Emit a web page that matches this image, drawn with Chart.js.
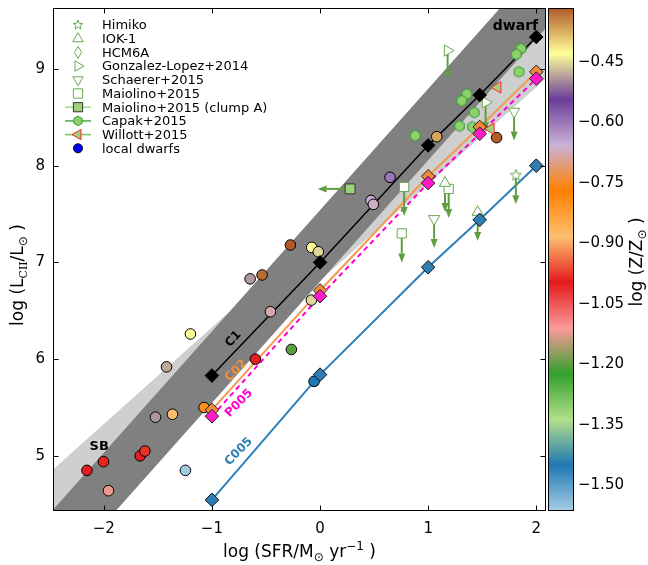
<!DOCTYPE html>
<html>
<head>
<meta charset="utf-8">
<script src="https://cdn.jsdelivr.net/npm/chart.js@4.4.0/dist/chart.umd.min.js"></script>
<style>
  html, body { margin: 0; padding: 0; background: #fff; }
  #contenedor { width: 648px; height: 565px; }
</style>
</head>
<body>
<div id="contenedor"><canvas id="grafico"></canvas></div>
<script>
// Marcas de los ejes
const xTicks = [-2, -1, 0, 1, 2];
const yTicks = [5, 6, 7, 8, 9];
const zTicks = [-1.50, -1.35, -1.20, -1.05, -0.90, -0.75, -0.60, -0.45];
const zMin = -1.563;
const zMax = -0.317;

// Enanas locales (color segun metalicidad)
const enanasSFR = [-2.156, -2.003, -1.957, -1.664, -1.620, -1.245, -1.522, -1.365, -1.072, -1.420, -1.199, -0.598, -0.459, -0.265, -0.647, -0.536, -0.274, -0.077, -0.016, -0.080, 0.471, 0.493, 0.647, 1.079, 1.633, -0.055];
const enanasLCII = [4.85, 4.94, 4.64, 5.00, 5.05, 4.85, 5.40, 5.43, 5.50, 5.92, 6.26, 6.00, 6.49, 6.10, 6.83, 6.87, 7.18, 7.155, 7.11, 6.61, 7.64, 7.60, 7.88, 8.30, 8.29, 5.77];
const enanasZ = [-1.00, -0.99, -1.12, -1.00, -0.98, -1.56, -0.49, -0.88, -0.80, -0.48, -0.43, -1.00, -0.68, -1.20, -0.49, -0.33, -0.31, -0.43, -0.455, -0.455, -0.65, -0.665, -0.60, -0.37, -0.32, -1.45];

// Modelos
const modeloSFR = [-1, 0, 1, 1.477, 2];
const modeloC1 = [5.83, 7.00, 8.21, 8.73, 9.33];
const modeloC02 = [5.475, 6.71, 7.89, 8.40, 8.97];
const modeloP005 = [5.41, 6.65, 7.82, 8.33, 8.90];
const modeloC005 = [4.545, 5.84, 6.95, 7.44, 8.00];

// Bandas (relaciones dwarf y SB)
const bandaSFR = [-2.6, 2.2];
const dwarfSup = [4.28, 10.30];
const dwarfInf = [3.54, 9.56];
const sbSup = [4.73, 9.53];
const sbInf = [4.21, 9.01];

// Galaxias a alto z
const capakSFR = [1.858, 1.815, 1.84, 1.358, 1.31, 1.426, 1.29, 1.41, 0.88];
const capakLCII = [9.21, 9.15, 8.97, 8.74, 8.67, 8.55, 8.41, 8.40, 8.31];
const willottSFR = [1.642, 1.58];
const willottLCII = [8.81, 8.38];
const gonzalezSFR = [1.18, 1.531];
const gonzalezLCII = [9.19, 8.655];
const schaererSFR = [1.795, 1.055];
const schaererLCII = [8.56, 7.45];
const maiolinoSFR = [0.778, 1.19, 0.756];
const maiolinoLCII = [7.78, 7.76, 7.30];
const iokSFR = [1.156, 1.458];
const iokLCII = [7.82, 7.52];
const himikoSFR = [1.811];
const himikoLCII = [7.90];
const clumpSFR = [0.278];
const clumpLCII = [7.76];

const leyendaTextos = ['Himiko', 'IOK-1', 'HCM6A', 'Gonzalez-Lopez+2014', 'Schaerer+2015', 'Maiolino+2015', 'Maiolino+2015 (clump A)', 'Capak+2015', 'Willott+2015', 'local dwarfs'];

const paleta = ['#a6cee3', '#1f78b4', '#b2df8a', '#33a02c', '#fb9a99', '#e31a1c', '#fdbf6f', '#ff7f00', '#cab2d6', '#6a3d9a', '#ffff99', '#b15928'];
const verde = '#6aa84f';
const verdeFlecha = '#5e9e3f';
const LARGO = 0.3; // largo de las flechas de limite (dex)

function hexARgb(h) {
  return [parseInt(h.slice(1, 3), 16), parseInt(h.slice(3, 5), 16), parseInt(h.slice(5, 7), 16)];
}
function colorZ(z) {
  let t = (z - zMin) / (zMax - zMin);
  t = Math.max(0, Math.min(1, t));
  const p = t * (paleta.length - 1);
  const i = Math.min(Math.floor(p), paleta.length - 2);
  const f = p - i;
  const a = hexARgb(paleta[i]), b = hexARgb(paleta[i + 1]);
  return 'rgb(' + a.map((v, k) => Math.round(v + (b[k] - v) * f)).join(',') + ')';
}
function pares(xs, ys) {
  return xs.map((x, i) => ({ x: x, y: ys[i] }));
}
function poligono(xs, sup, inf) {
  const p = pares(xs, sup);
  for (let i = xs.length - 1; i >= 0; i--) p.push({ x: xs[i], y: inf[i] });
  p.push(p[0]);
  return p;
}

// Dibuja una marca simple (tambien se usa en la leyenda)
function dibujarMarca(ctx, tipo, x, y, r, rot, relleno, borde) {
  ctx.save();
  ctx.translate(x, y);
  ctx.rotate((rot || 0) * Math.PI / 180);
  ctx.beginPath();
  if (tipo === 'circle') {
    ctx.arc(0, 0, r, 0, 2 * Math.PI);
  } else if (tipo === 'triangle') {
    for (let k = 0; k < 3; k++) {
      const a = k * 2 * Math.PI / 3;
      ctx.lineTo(Math.sin(a) * r, -Math.cos(a) * r);
    }
  } else if (tipo === 'rect') {
    const s = r * Math.SQRT1_2;
    ctx.rect(-s, -s, 2 * s, 2 * s);
  } else if (tipo === 'diamanteFino') {
    ctx.moveTo(0, -r); ctx.lineTo(0.6 * r, 0); ctx.lineTo(0, r); ctx.lineTo(-0.6 * r, 0);
  } else if (tipo === 'hex') {
    for (let k = 0; k < 6; k++) {
      const a = k * Math.PI / 3;
      ctx.lineTo(Math.sin(a) * r, -Math.cos(a) * r);
    }
  } else if (tipo === 'estrella') {
    for (let k = 0; k < 10; k++) {
      const a = k * Math.PI / 5;
      const rr = k % 2 === 0 ? r : r * 0.42;
      ctx.lineTo(Math.sin(a) * rr, -Math.cos(a) * rr);
    }
  }
  ctx.closePath();
  ctx.fillStyle = relleno;
  ctx.fill();
  ctx.lineWidth = 1;
  ctx.strokeStyle = borde;
  ctx.stroke();
  ctx.restore();
}
function imagenMarca(tipo, r, relleno, borde) {
  const c = document.createElement('canvas');
  const s = Math.ceil(2 * r + 4);
  c.width = s; c.height = s;
  dibujarMarca(c.getContext('2d'), tipo, s / 2, s / 2, r, 0, relleno, borde);
  return c;
}
const imgHex = imagenMarca('hex', 5.5, '#8fd16c', '#2e9a2e');
const imgEstrella = imagenMarca('estrella', 5.8, '#ffffff', verde);

function flecha(ctx, x0, y0, x1, y1) {
  const ang = Math.atan2(y1 - y0, x1 - x0);
  const L = 9, W = 3.5;
  const c = Math.cos(ang), s = Math.sin(ang);
  ctx.strokeStyle = verdeFlecha;
  ctx.fillStyle = verdeFlecha;
  ctx.lineWidth = 2;
  ctx.beginPath();
  ctx.moveTo(x0, y0);
  ctx.lineTo(x1 - L * c, y1 - L * s);
  ctx.stroke();
  ctx.beginPath();
  ctx.moveTo(x1, y1);
  ctx.lineTo(x1 - L * c - W * s, y1 - L * s + W * c);
  ctx.lineTo(x1 - L * c + W * s, y1 - L * s - W * c);
  ctx.closePath();
  ctx.fill();
}

// Texto con subindices / superindices
function textoRico(ctx, partes, cx, cy, tam, rot) {
  ctx.save();
  ctx.translate(cx, cy);
  ctx.rotate(rot);
  ctx.textAlign = 'left';
  ctx.textBaseline = 'alphabetic';
  ctx.fillStyle = '#000';
  const fuente = p => Math.round(tam * p[1]) + 'px ' + (p[3] || "'DejaVu Sans'");
  let ancho = 0;
  partes.forEach(p => { ctx.font = fuente(p); ancho += ctx.measureText(p[0]).width; });
  let x = -ancho / 2;
  const base = tam * 0.36;
  partes.forEach(p => {
    ctx.font = fuente(p);
    ctx.fillText(p[0], x, base + p[2]);
    x += ctx.measureText(p[0]).width;
  });
  ctx.restore();
}

// Quita el relleno automatico de las escalas para fijar el area del grafico
function sinRelleno(s) {
  s.paddingTop = 0; s.paddingBottom = 0; s.paddingLeft = 0; s.paddingRight = 0;
}

const decoracion = {
  id: 'decoracion',
  afterDatasetDraw(chart, args) {
    if (!chart.data.datasets[args.index].conFlechas) return;
    const ctx = chart.ctx, xs = chart.scales.x, ys = chart.scales.y, a = chart.chartArea;
    ctx.save();
    ctx.beginPath();
    ctx.rect(a.left, a.top, a.right - a.left, a.bottom - a.top);
    ctx.clip();
    [[gonzalezSFR, gonzalezLCII], [schaererSFR, schaererLCII], [maiolinoSFR, maiolinoLCII],
     [iokSFR, iokLCII], [himikoSFR, himikoLCII]].forEach(function (g) {
      g[0].forEach(function (x, i) {
        const px = xs.getPixelForValue(x);
        flecha(ctx, px, ys.getPixelForValue(g[1][i]), px, ys.getPixelForValue(g[1][i] - LARGO));
      });
    });
    clumpSFR.forEach(function (x, i) {
      const py = ys.getPixelForValue(clumpLCII[i]);
      flecha(ctx, xs.getPixelForValue(x), py, xs.getPixelForValue(x - LARGO), py);
    });
    ctx.restore();
  },
  afterDatasetsDraw(chart) {
    const ctx = chart.ctx, xs = chart.scales.x, ys = chart.scales.y, a = chart.chartArea;
    ctx.save();
    // marco y marcas hacia adentro
    ctx.strokeStyle = '#000';
    ctx.lineWidth = 1;
    const L = Math.round(a.left) + 0.5, R = Math.round(a.right) - 0.5;
    const T = Math.round(a.top) + 0.5, B = Math.round(a.bottom) - 0.5;
    ctx.strokeRect(L, T, R - L, B - T);
    ctx.beginPath();
    xTicks.forEach(v => {
      const p = Math.round(xs.getPixelForValue(v)) + 0.5;
      ctx.moveTo(p, B); ctx.lineTo(p, B - 5);
      ctx.moveTo(p, T); ctx.lineTo(p, T + 5);
    });
    yTicks.forEach(v => {
      const p = Math.round(ys.getPixelForValue(v)) + 0.5;
      ctx.moveTo(L, p); ctx.lineTo(L + 5, p);
      ctx.moveTo(R, p); ctx.lineTo(R - 5, p);
    });
    ctx.stroke();

    // etiquetas de las relaciones
    const etiquetas = [
      { texto: 'C1', x: -0.801, y: 6.207, color: '#000000', linea: modeloC1 },
      { texto: 'C02', x: -0.776, y: 5.88, color: '#f0913a', linea: modeloC02 },
      { texto: 'P005', x: -0.749, y: 5.545, color: '#ff00cc', linea: modeloP005 },
      { texto: 'C005', x: -0.752, y: 5.044, color: '#2f7fb5', linea: modeloC005 }
    ];
    ctx.textAlign = 'center';
    ctx.textBaseline = 'middle';
    ctx.font = "bold 12px 'DejaVu Sans'";
    etiquetas.forEach(e => {
      const n = modeloSFR.length - 1;
      const ang = Math.atan2(ys.getPixelForValue(e.linea[n]) - ys.getPixelForValue(e.linea[0]),
        xs.getPixelForValue(modeloSFR[n]) - xs.getPixelForValue(modeloSFR[0]));
      ctx.save();
      ctx.translate(xs.getPixelForValue(e.x), ys.getPixelForValue(e.y));
      ctx.rotate(ang);
      ctx.fillStyle = e.color;
      ctx.fillText(e.texto, 0, 0);
      ctx.restore();
    });
    ctx.fillStyle = '#000';
    ctx.font = "bold 13px 'DejaVu Sans'";
    ctx.fillText('SB', xs.getPixelForValue(-2.043), ys.getPixelForValue(5.096));
    ctx.font = "bold 14px 'DejaVu Sans'";
    ctx.fillText('dwarf', xs.getPixelForValue(1.808), ys.getPixelForValue(9.44));

    // leyenda
    const estilos = [
      { tipo: 'estrella', r: 5, relleno: '#fff', borde: verde },
      { tipo: 'triangle', r: 6, relleno: '#fff', borde: verde },
      { tipo: 'diamanteFino', r: 6, relleno: '#fff', borde: verde },
      { tipo: 'triangle', r: 6, rot: 90, relleno: '#fff', borde: verde },
      { tipo: 'triangle', r: 6, rot: 180, relleno: '#fff', borde: verde },
      { tipo: 'rect', r: 6.5, relleno: '#fff', borde: verde },
      { tipo: 'rect', r: 6.5, relleno: '#9fd27c', borde: '#333', linea: '#a6d785' },
      { tipo: 'hex', r: 4.8, relleno: '#8fd16c', borde: '#2e9a2e', linea: '#4cae4c' },
      { tipo: 'triangle', r: 6, rot: 270, relleno: '#9fd27c', borde: '#ff2020', linea: '#7cc35a' },
      { tipo: 'circle', r: 4.5, relleno: '#0000ff', borde: '#000' }
    ];
    ctx.font = "13px 'DejaVu Sans'";
    ctx.textAlign = 'left';
    leyendaTextos.forEach((t, i) => {
      const y = 25 + i * 13.7;
      const e = estilos[i];
      if (e.linea) {
        ctx.strokeStyle = e.linea;
        ctx.lineWidth = 1.5;
        ctx.beginPath();
        ctx.moveTo(65, y); ctx.lineTo(91, y);
        ctx.stroke();
      }
      dibujarMarca(ctx, e.tipo, 78, y, e.r, e.rot, e.relleno, e.borde);
      ctx.fillStyle = '#000';
      ctx.fillText(t, 102, y + 1);
    });
    ctx.restore();
  },
  afterDraw(chart) {
    const ctx = chart.ctx, cb = chart.scales.cb, a = chart.chartArea;
    ctx.save();
    // barra de color
    const x0 = Math.round(cb.left) + 2.5, ancho = 25;
    const yTop = cb.getPixelForValue(zMax), yBot = cb.getPixelForValue(zMin);
    const grad = ctx.createLinearGradient(0, yBot, 0, yTop);
    paleta.forEach((c, i) => grad.addColorStop(i / (paleta.length - 1), c));
    ctx.fillStyle = grad;
    ctx.fillRect(x0, yTop, ancho, yBot - yTop);
    ctx.strokeStyle = '#000';
    ctx.lineWidth = 1;
    ctx.strokeRect(x0, Math.round(yTop) + 0.5, ancho, Math.round(yBot - yTop) - 1);
    ctx.restore();

    // titulos
    textoRico(ctx, [['log (SFR/M', 1, 0], ['\u2299', 0.7, 4], [' yr', 1, 0], ['\u22121', 0.7, -7], [' )', 1, 0]],
      (a.left + a.right) / 2, 551, 17, 0);
    textoRico(ctx, [['log (L', 1, 0], ['CII', 0.62, 4, "'DejaVu Serif'"], ['/L', 1, 0], ['\u2299', 0.7, 4], [' )', 1, 0]],
      17, 275, 17, -Math.PI / 2);
    textoRico(ctx, [['log (Z/Z', 1, 0], ['\u2299', 0.7, 4], [' )', 1, 0]],
      636, 262, 17, -Math.PI / 2);
  }
};

const menos = s => s.replace('-', '\u2212');

Chart.defaults.font.family = "'DejaVu Sans', sans-serif";
Chart.defaults.color = '#000';

new Chart(document.getElementById('grafico'), {
  type: 'scatter',
  data: {
    datasets: [
      // diamantes de los modelos (arriba de todo)
      { label: 'P005', data: pares(modeloSFR, modeloP005), pointStyle: 'rectRot', pointRadius: 6.8, backgroundColor: '#ff19c8', borderColor: '#222', borderWidth: 1, order: 1 },
      { label: 'C02', data: pares(modeloSFR, modeloC02), pointStyle: 'rectRot', pointRadius: 6.8, backgroundColor: '#f08a3a', borderColor: '#222', borderWidth: 1, order: 2 },
      { label: 'C1', data: pares(modeloSFR, modeloC1), pointStyle: 'rectRot', pointRadius: 6.8, backgroundColor: '#000', borderColor: '#000', borderWidth: 1, order: 3 },
      { label: 'C005', data: pares(modeloSFR, modeloC005), pointStyle: 'rectRot', pointRadius: 6.8, backgroundColor: '#2e7eb3', borderColor: '#111', borderWidth: 1, order: 4 },
      // alto z
      { label: 'Maiolino+2015 (clump A)', data: pares(clumpSFR, clumpLCII), pointStyle: 'rect', pointRadius: 7, backgroundColor: '#9fd27c', borderColor: '#333', borderWidth: 1, order: 10 },
      { label: 'Capak+2015', data: pares(capakSFR, capakLCII), pointStyle: imgHex, order: 11 },
      { label: 'Willott+2015', data: pares(willottSFR, willottLCII), pointStyle: 'triangle', rotation: 270, pointRadius: 6.5, backgroundColor: '#9fd27c', borderColor: '#ff2020', borderWidth: 1, order: 12 },
      { label: 'Himiko', data: pares(himikoSFR, himikoLCII), pointStyle: imgEstrella, order: 13 },
      { label: 'Gonzalez-Lopez+2014', data: pares(gonzalezSFR, gonzalezLCII), pointStyle: 'triangle', rotation: 90, pointRadius: 6.5, backgroundColor: '#fff', borderColor: verde, borderWidth: 1, order: 14 },
      { label: 'Schaerer+2015', data: pares(schaererSFR, schaererLCII), pointStyle: 'triangle', rotation: 180, pointRadius: 6.5, backgroundColor: '#fff', borderColor: verde, borderWidth: 1, order: 15 },
      { label: 'IOK-1', data: pares(iokSFR, iokLCII), pointStyle: 'triangle', pointRadius: 6.5, backgroundColor: '#fff', borderColor: verde, borderWidth: 1, order: 16 },
      { label: 'Maiolino+2015', data: pares(maiolinoSFR, maiolinoLCII), pointStyle: 'rect', pointRadius: 6.5, backgroundColor: '#fff', borderColor: verde, borderWidth: 1, order: 17 },
      // enanas locales
      { label: 'local dwarfs', data: pares(enanasSFR, enanasLCII), pointStyle: 'circle', pointRadius: 5.3, backgroundColor: enanasZ.map(colorZ), borderColor: '#000', borderWidth: 1, order: 20 },
      // lineas de los modelos
      { label: 'linea C1', data: pares(modeloSFR, modeloC1), showLine: true, pointRadius: 0, borderColor: '#000', borderWidth: 1.5, order: 30, conFlechas: true },
      { label: 'linea C02', data: pares(modeloSFR, modeloC02), showLine: true, pointRadius: 0, borderColor: '#f39a50', borderWidth: 2, order: 31 },
      { label: 'linea P005', data: pares(modeloSFR, modeloP005), showLine: true, pointRadius: 0, borderColor: '#ff00cc', borderWidth: 2, borderDash: [5, 4], order: 31.5 },
      { label: 'linea C005', data: pares(modeloSFR, modeloC005), showLine: true, pointRadius: 0, borderColor: '#2c7fb8', borderWidth: 2, order: 32 },
      // bandas
      { label: 'banda dwarf', data: poligono(bandaSFR, dwarfSup, dwarfInf), showLine: true, fill: 'shape', backgroundColor: '#808080', borderColor: 'rgba(0,0,0,0)', borderWidth: 0, pointRadius: 0, order: 99 },
      { label: 'banda SB', data: poligono(bandaSFR, sbSup, sbInf), showLine: true, fill: 'shape', backgroundColor: '#cfcfcf', borderColor: 'rgba(0,0,0,0)', borderWidth: 0, pointRadius: 0, order: 100 }
    ]
  },
  options: {
    responsive: true,
    maintainAspectRatio: false,
    animation: false,
    devicePixelRatio: 1,
    events: [],
    layout: { padding: { top: 8, left: 0, right: 0, bottom: 0 } },
    plugins: { legend: { display: false }, tooltip: { enabled: false } },
    scales: {
      x: {
        type: 'linear', position: 'bottom', min: -2.47, max: 2.09,
        grid: { display: false, drawTicks: false }, border: { display: false },
        ticks: { font: { size: 15 }, color: '#000', padding: 9, callback: v => menos(String(v)) },
        afterBuildTicks: s => { s.ticks = xTicks.map(v => ({ value: v })); },
        afterFit: s => { s.height = 54; sinRelleno(s); }
      },
      y: {
        type: 'linear', position: 'left', min: 4.43, max: 9.63,
        grid: { display: false, drawTicks: false }, border: { display: false },
        ticks: { font: { size: 15 }, color: '#000', padding: 8, callback: v => menos(String(v)) },
        afterBuildTicks: s => { s.ticks = yTicks.map(v => ({ value: v })); },
        afterFit: s => { s.width = 53; sinRelleno(s); }
      },
      cb: {
        type: 'linear', position: 'right', min: zMin, max: zMax,
        grid: { display: false, drawTicks: false }, border: { display: false },
        ticks: { font: { size: 15 }, color: '#000', padding: 32, callback: v => menos(v.toFixed(2)) },
        afterBuildTicks: s => { s.ticks = zTicks.map(v => ({ value: v })); },
        afterFit: s => { s.width = 102; sinRelleno(s); }
      }
    }
  },
  plugins: [decoracion]
});
</script>
</body>
</html>
